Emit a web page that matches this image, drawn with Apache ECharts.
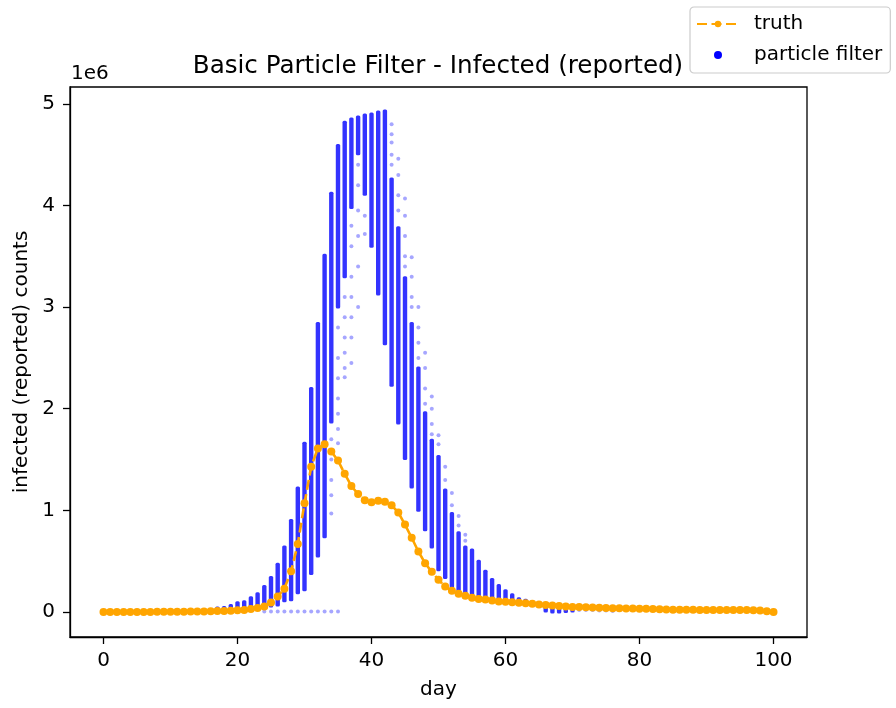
<!DOCTYPE html>
<html>
<head>
<meta charset="utf-8">
<script src="https://cdn.jsdelivr.net/npm/echarts@6/dist/echarts.min.js"></script>
<style>
html,body{margin:0;padding:0;background:#fff;}
#chart{width:896px;height:708px;}
</style>
</head>
<body>
<div id="chart"></div>
<script>
// ---- data (values in units of 1e6) ----
const truthValues = [
  0.000,0.000,0.000,0.000,0.001,0.001,0.001,0.001,0.002,0.002,
  0.002,0.003,0.003,0.004,0.005,0.006,0.007,0.009,0.011,0.013,
  0.016,0.020,0.030,0.040,0.055,0.094,0.153,0.230,0.400,0.670,
  1.070,1.430,1.610,1.650,1.580,1.490,1.360,1.240,1.160,1.100,
  1.080,1.095,1.085,1.050,0.980,0.860,0.730,0.595,0.480,0.395,
  0.317,0.250,0.210,0.180,0.160,0.140,0.127,0.122,0.112,0.104,
  0.100,0.096,0.091,0.086,0.080,0.074,0.068,0.063,0.058,0.054,
  0.050,0.048,0.046,0.044,0.042,0.040,0.038,0.036,0.035,0.034,
  0.033,0.031,0.029,0.027,0.025,0.023,0.022,0.021,0.021,0.020,
  0.020,0.020,0.020,0.020,0.020,0.019,0.019,0.018,0.014,0.008,
  0.000
];

// particle filter: dense band of particles per day (low / high)
const pfDays = [15,16,17,18,19,20,21,22,23,24,25,26,27,28,29,30,31,32,33,34,35,36,37,38,39,40,41,42,43,44,45,46,47,48,49,50,51,52,53,54,55,56,57,58,59,60,61,62,63,64,65,66,67,68,69,70];
const pfLow  = [0.008,0.010,0.012,0.014,0.016,0.020,0.022,0.030,0.040,0.050,0.060,0.070,0.110,0.120,0.190,0.220,0.380,0.550,0.740,1.870,3.000,3.300,3.980,4.510,4.110,3.600,3.130,2.640,2.230,1.860,1.510,1.230,1.000,0.810,0.640,0.415,0.340,0.250,0.200,0.190,0.170,0.153,0.137,0.137,0.130,0.120,0.120,0.100,0.090,0.080,0.060,0.010,0.000,0.000,0.005,0.010];
const pfHigh = [0.015,0.025,0.040,0.045,0.065,0.090,0.100,0.140,0.180,0.250,0.340,0.470,0.640,0.900,1.220,1.660,2.200,2.840,3.510,4.120,4.590,4.820,4.850,4.870,4.890,4.900,4.920,4.930,4.260,3.780,3.290,2.840,2.400,1.960,1.690,1.530,1.200,0.970,0.780,0.640,0.610,0.500,0.400,0.320,0.260,0.210,0.170,0.130,0.115,0.100,0.085,0.070,0.060,0.055,0.050,0.045];

// isolated particles (day, value)
const pfLoose = [
  [24,0.005],[25,0.005],[26,0.005],[27,0.005],[28,0.005],[29,0.005],[30,0.005],[31,0.005],[32,0.005],[33,0.005],[34,0.005],[35,0.005],
  [34,1.70],[34,1.50],[34,1.30],[34,1.15],[34,0.97],
  [35,2.80],[35,2.50],[35,2.30],[35,2.10],[35,1.95],[35,1.80],[35,1.66],
  [36,3.10],[36,2.90],[36,2.70],[36,2.55],[36,2.40],[36,2.31],
  [37,3.80],[37,3.60],[37,3.30],[37,3.10],[37,2.90],[37,2.70],[37,2.45],
  [38,4.40],[38,4.20],[38,3.95],[38,3.70],[38,3.40],[38,3.00],
  [39,3.90],[39,3.72],
  [43,4.80],[43,4.70],[43,4.62],[43,4.50],[43,4.40],
  [44,4.46],[44,4.30],[44,4.10],[44,3.95],
  [45,4.07],[45,3.90],[45,3.70],[45,3.50],[45,3.40],
  [46,3.49],[46,3.30],[46,3.10],[46,3.00],
  [47,3.00],[47,2.80],[47,2.65],[47,2.50],
  [48,2.55],[48,2.40],[48,2.20],[48,2.05],
  [49,2.12],[49,2.00],[49,1.85],[49,1.75],
  [50,1.74],[50,1.65],[51,1.43],[51,1.30],[52,1.17],[52,1.05],
  [53,0.945],[53,0.85],[54,0.76],[54,0.70],
  [71,0.020],[72,0.020],[73,0.020],[74,0.015],[75,0.015],[76,0.010]
];

const xTicks = [0,20,40,60,80,100];
const yTicks = [0,1,2,3,4,5];

// ---- build ----
const truthData = truthValues.map((v, i) => [i, v]);
const bandData = pfDays.map((d, i) => [d, pfLow[i], pfHigh[i]]);

const FONT = 'DejaVu Sans';
const chart = echarts.init(document.getElementById('chart'), null, {renderer: 'canvas'});
chart.setOption({
  animation: false,
  backgroundColor: '#fff',
  title: {
    text: 'Basic Particle Filter - Infected (reported)',
    left: 438, top: 55, textAlign: 'center', padding: 0,
    textStyle: {fontFamily: FONT, fontSize: 24.6, fontWeight: 'normal', color: '#000', lineHeight: 24}
  },
  legend: {
    orient: 'vertical', left: 690, top: 7,
    padding: [6, 8, 7, 6], itemGap: 9, itemWidth: 42, itemHeight: 8,
    backgroundColor: 'rgba(255,255,255,0.8)', borderColor: '#cccccc', borderWidth: 1.2, borderRadius: 4,
    textStyle: {fontFamily: FONT, fontSize: 20, color: '#000', lineHeight: 22, padding: [0, 0, 0, 10]},
    data: [
      {name: 'truth'},
      {name: 'particle filter', icon: 'circle', itemStyle: {color: '#0000ff', opacity: 1}}
    ]
  },
  graphic: [{
    type: 'text', left: 71, top: 64,
    style: {text: '1e6', fontFamily: FONT, fontSize: 20, fill: '#000'}
  }],
  grid: {left: 70, top: 87, width: 737, height: 550, show: true, borderColor: '#000', borderWidth: 1.3, containLabel: false},
  xAxis: {
    type: 'value', min: -5, max: 105,
    name: 'day', nameLocation: 'middle', nameGap: 43,
    nameTextStyle: {fontFamily: FONT, fontSize: 20, color: '#000', lineHeight: 20},
    axisLine: {show: true, onZero: false, lineStyle: {color: '#000', width: 1.3}},
    axisTick: {show: true, inside: false, length: 7, customValues: xTicks, lineStyle: {color: '#000', width: 1.3}},
    axisLabel: {customValues: xTicks, fontFamily: FONT, fontSize: 20, color: '#000', margin: 14, lineHeight: 20},
    splitLine: {show: false}
  },
  yAxis: {
    type: 'value', min: -0.246, max: 5.166,
    name: 'infected (reported) counts', nameLocation: 'middle', nameGap: 38, nameRotate: 90,
    nameTextStyle: {fontFamily: FONT, fontSize: 20, color: '#000', lineHeight: 20},
    axisLine: {show: true, onZero: false, lineStyle: {color: '#000', width: 1.3}},
    axisTick: {show: true, inside: false, length: 7, customValues: yTicks, lineStyle: {color: '#000', width: 1.3}},
    axisLabel: {customValues: yTicks, fontFamily: FONT, fontSize: 20, color: '#000', margin: 15,
      formatter: v => String(Math.round(v))},
    splitLine: {show: false}
  },
  series: [
    {
      name: 'particle filter', type: 'scatter', data: pfLoose, z: 2,
      symbol: 'circle', symbolSize: 4,
      itemStyle: {color: '#0000ff', opacity: 0.35}
    },
    {
      name: 'particle filter', type: 'custom', data: bandData, z: 2,
      encode: {x: 0, y: [1, 2]},
      renderItem: function (params, api) {
        const d = api.value(0);
        const top = api.coord([d, api.value(2)]);
        const bot = api.coord([d, api.value(1)]);
        const w = 4.4;
        return {
          type: 'rect',
          shape: {x: top[0] - w / 2, y: top[1] - 1.5, width: w, height: Math.max(bot[1] - top[1], 0) + 3, r: 1.5},
          style: {fill: 'rgba(0,0,255,0.8)'}
        };
      }
    },
    {
      name: 'truth', type: 'line', data: truthData, z: 5,
      symbol: 'circle', symbolSize: 8,
      itemStyle: {color: '#ffa500'},
      lineStyle: {color: '#ffa500', width: 2.6, type: [10, 4.5]}
    }
  ]
});
</script>
</body>
</html>
